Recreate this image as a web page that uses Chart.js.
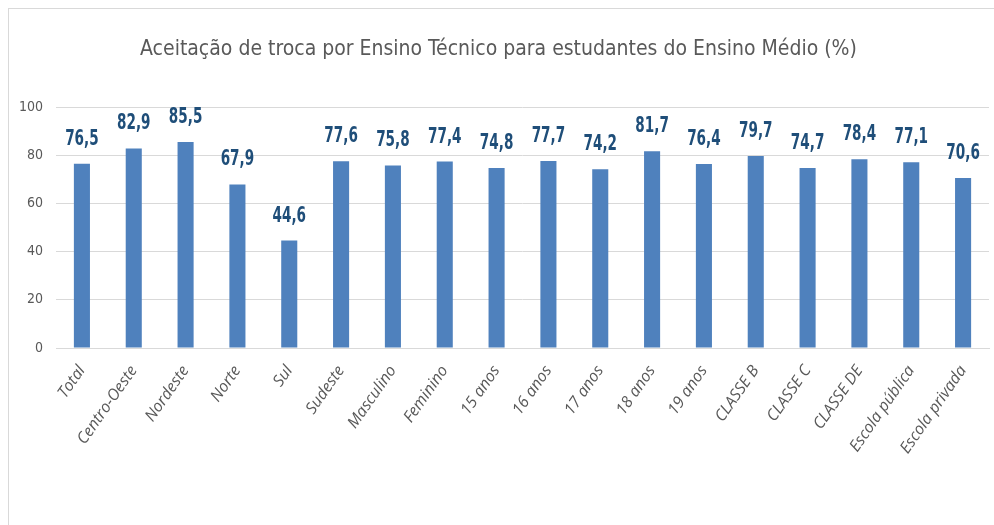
<!DOCTYPE html>
<html>
<head>
<meta charset="utf-8">
<script src="https://cdn.jsdelivr.net/npm/chart.js@4/dist/chart.umd.min.js"></script>
<style>
    html, body { margin: 0; padding: 0; background: #fff; }
    #wrap { position: relative; width: 994px; height: 525px; }
    #frame { position: absolute; left: 8px; top: 8px; right: 0; bottom: 0; border-left: 1px solid #d9d9d9; border-top: 1px solid #d9d9d9; }
    canvas { position: absolute; left: 0; top: 0; }
</style>
</head>
<body>
<div id="wrap">
    <div id="frame"></div>
    <canvas id="chart" width="994" height="525"></canvas>
</div>
<script>
const categories = ['Total', 'Centro-Oeste', 'Nordeste', 'Norte', 'Sul', 'Sudeste', 'Masculino', 'Feminino',
    '15 anos', '16 anos', '17 anos', '18 anos', '19 anos', 'CLASSE B', 'CLASSE C', 'CLASSE DE',
    'Escola pública', 'Escola privada'];
const values = [76.5, 82.9, 85.5, 67.9, 44.6, 77.6, 75.8, 77.4, 74.8, 77.7, 74.2, 81.7, 76.4, 79.7, 74.7, 78.4, 77.1, 70.6];
const yTicks = [0, 20, 40, 60, 80, 100];

const narrow = '"DejaVu Sans Condensed", "DejaVu Sans", sans-serif';

// value labels above the bars, squeezed a bit to look like a condensed bold face
const valueLabels = {
    id: 'valueLabels',
    afterDatasetsDraw(chart) {
        const ctx = chart.ctx;
        const meta = chart.getDatasetMeta(0);
        const sx = 0.72;
        ctx.save();
        ctx.font = 'bold 21px ' + narrow;
        ctx.fillStyle = '#1f4e79';
        ctx.textAlign = 'center';
        ctx.textBaseline = 'bottom';
        meta.data.forEach(function(bar, i) {
            ctx.save();
            ctx.translate(bar.x, bar.y - 14);
            ctx.scale(sx, 1);
            ctx.fillText(values[i].toFixed(1).replace('.', ','), 0, 0);
            ctx.restore();
        });
        ctx.restore();
    }
};

const ctx = document.getElementById('chart').getContext('2d');
new Chart(ctx, {
    type: 'bar',
    data: {
        labels: categories,
        datasets: [{
            data: values,
            backgroundColor: '#4f81bd',
            borderWidth: 0,
            barPercentage: 0.31,
            categoryPercentage: 1
        }]
    },
    options: {
        responsive: false,
        animation: false,
        layout: { padding: { left: 8, right: 5, top: 0, bottom: 0 } },
        plugins: {
            legend: { display: false },
            tooltip: { enabled: false },
            title: {
                display: true,
                text: 'Aceitação de troca por Ensino Técnico para estudantes do Ensino Médio (%)',
                color: '#595959',
                font: { family: narrow, size: 21, weight: 'normal' },
                padding: { top: 37, bottom: 45 }
            }
        },
        scales: {
            x: {
                grid: { display: false },
                border: { display: true, color: '#d9d9d9' },
                ticks: {
                    color: '#595959',
                    font: { family: 'Open Sans, sans-serif', size: 16, style: 'italic' },
                    minRotation: 55,
                    maxRotation: 55,
                    autoSkip: false,
                    padding: 6
                },
                afterFit(scale) { scale.height = 177; }
            },
            y: {
                min: 0,
                max: 100,
                afterBuildTicks(scale) { scale.ticks = yTicks.map(v => ({ value: v })); },
                grid: { color: '#d9d9d9', drawTicks: false },
                border: { display: false },
                ticks: {
                    color: '#595959',
                    font: { family: narrow, size: 14 },
                    padding: 13
                },
                afterFit(scale) { scale.width = 48; }
            }
        }
    },
    plugins: [valueLabels]
});
</script>
</body>
</html>
